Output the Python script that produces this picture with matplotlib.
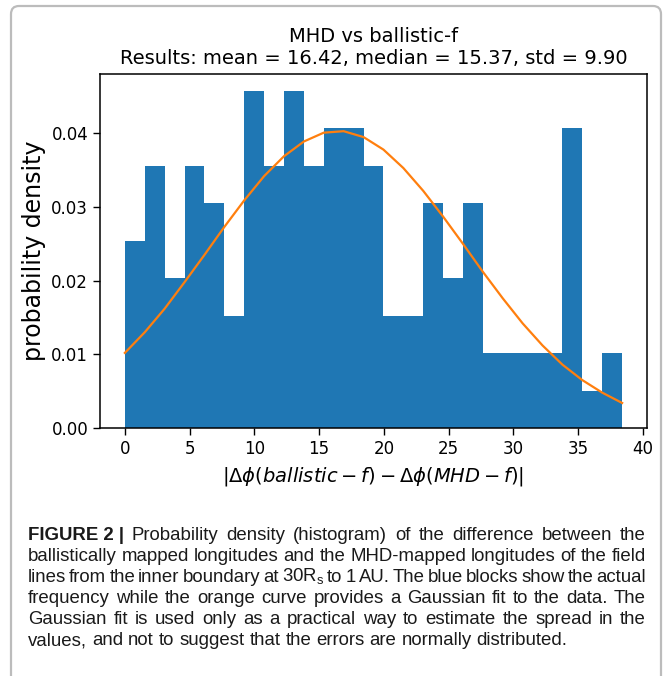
import matplotlib
matplotlib.use("Agg")
import matplotlib.pyplot as plt
from matplotlib.patches import FancyBboxPatch

# histogram: counts per bin (N = 128) and bin edges
bin_edges = [0.0, 1.536, 3.072, 4.608, 6.144, 7.68, 9.216, 10.752, 12.288,
             13.824, 15.36, 16.896, 18.432, 19.968, 21.504, 23.04, 24.576,
             26.112, 27.648, 29.184, 30.72, 32.256, 33.792, 35.328, 36.864, 38.4]
counts = [5, 7, 4, 7, 6, 3, 9, 7, 9, 7, 8, 8, 7, 3, 3, 6, 4, 6, 2, 2, 2, 2, 8, 1, 2]

# gaussian fit values read at the bin edges
fit_density = [0.0102, 0.0130, 0.0162, 0.0198, 0.0235, 0.0273, 0.0309, 0.0342,
               0.0369, 0.0389, 0.0401, 0.0403, 0.0395, 0.0378, 0.0353, 0.0322,
               0.0287, 0.0250, 0.0212, 0.0176, 0.0142, 0.0112, 0.0086, 0.0065,
               0.0048, 0.0034]

title = "MHD vs ballistic-f\nResults: mean = 16.42, median = 15.37, std = 9.90"
xlabel = r"$|\Delta\phi(ballistic - f) - \Delta\phi(MHD - f)|$"
ylabel = "probability density"

caption_lines = [
    ["FIGURE 2 |", "Probability", "density", "(histogram)", "of", "the", "difference", "between", "the"],
    ["ballistically", "mapped", "longitudes", "and", "the", "MHD-mapped", "longitudes", "of", "the", "field"],
    ["lines", "from", "the", "inner", "boundary", "at", r"30R$_\mathregular{s}$", "to", "1", "AU.", "The",
     "blue", "blocks", "show", "the", "actual"],
    ["frequency", "while", "the", "orange", "curve", "provides", "a", "Gaussian", "fit", "to", "the", "data.", "The"],
    ["Gaussian", "fit", "is", "used", "only", "as", "a", "practical", "way", "to", "estimate", "the", "spread",
     "in", "the"],
    ["values,", "and", "not", "to", "suggest", "that", "the", "errors", "are", "normally", "distributed."],
]

W, H = 664, 676
fig = plt.figure(figsize=(W / 100, H / 100), dpi=100)
ax = fig.add_axes([100 / W, 1 - 428 / H, 547 / W, 354 / H])

ax.hist(bin_edges[:-1], bins=bin_edges, weights=counts, density=True, color="#1f77b4")
ax.plot(bin_edges, fit_density, color="#ff7f0e", lw=1.6)

ax.set_title(title, fontsize=14, pad=7)
ax.set_xlabel(xlabel, fontsize=14, labelpad=5)
ax.set_ylabel(ylabel, fontsize=17)
ax.set_xticks(range(0, 41, 5))
ax.set_yticks([0.0, 0.01, 0.02, 0.03, 0.04])
ax.yaxis.set_major_formatter(matplotlib.ticker.FormatStrFormatter("%.2f"))
ax.tick_params(labelsize=12, length=5, width=1)
for s in ax.spines.values():
    s.set_linewidth(1.1)

# frame around figure + caption
frame = FancyBboxPatch((11 / W, -0.05), 650 / W, 1.05 - 6 / H,
                       boxstyle="round,pad=0,rounding_size=0.012",
                       transform=fig.transFigure, fc="none", ec="#bcbcbc", lw=1.6)
fig.add_artist(frame)

# caption, justified line by line
cap_font = ["Liberation Sans", "DejaVu Sans"]
cap_size = 13.4
x_left, x_right = 28, 646
y0, dy = 540, 21
renderer = fig.canvas.get_renderer()
for i, words in enumerate(caption_lines):
    y = 1 - (y0 + i * dy) / H
    texts = []
    for j, w in enumerate(words):
        bold = (i == 0 and j == 0)
        t = fig.text(0, y, w, fontsize=cap_size, family=cap_font,
                     fontweight="bold" if bold else "normal", va="baseline", color="#1a1a1a")
        texts.append(t)
    widths = [t.get_window_extent(renderer).width for t in texts]
    if i < len(caption_lines) - 1:
        gap = (x_right - x_left - sum(widths)) / (len(words) - 1)
    else:
        gap = 5.0
    x = x_left
    for t, w in zip(texts, widths):
        t.set_x(x / W)
        x += w + gap

fig.savefig("out.png", dpi=100)
